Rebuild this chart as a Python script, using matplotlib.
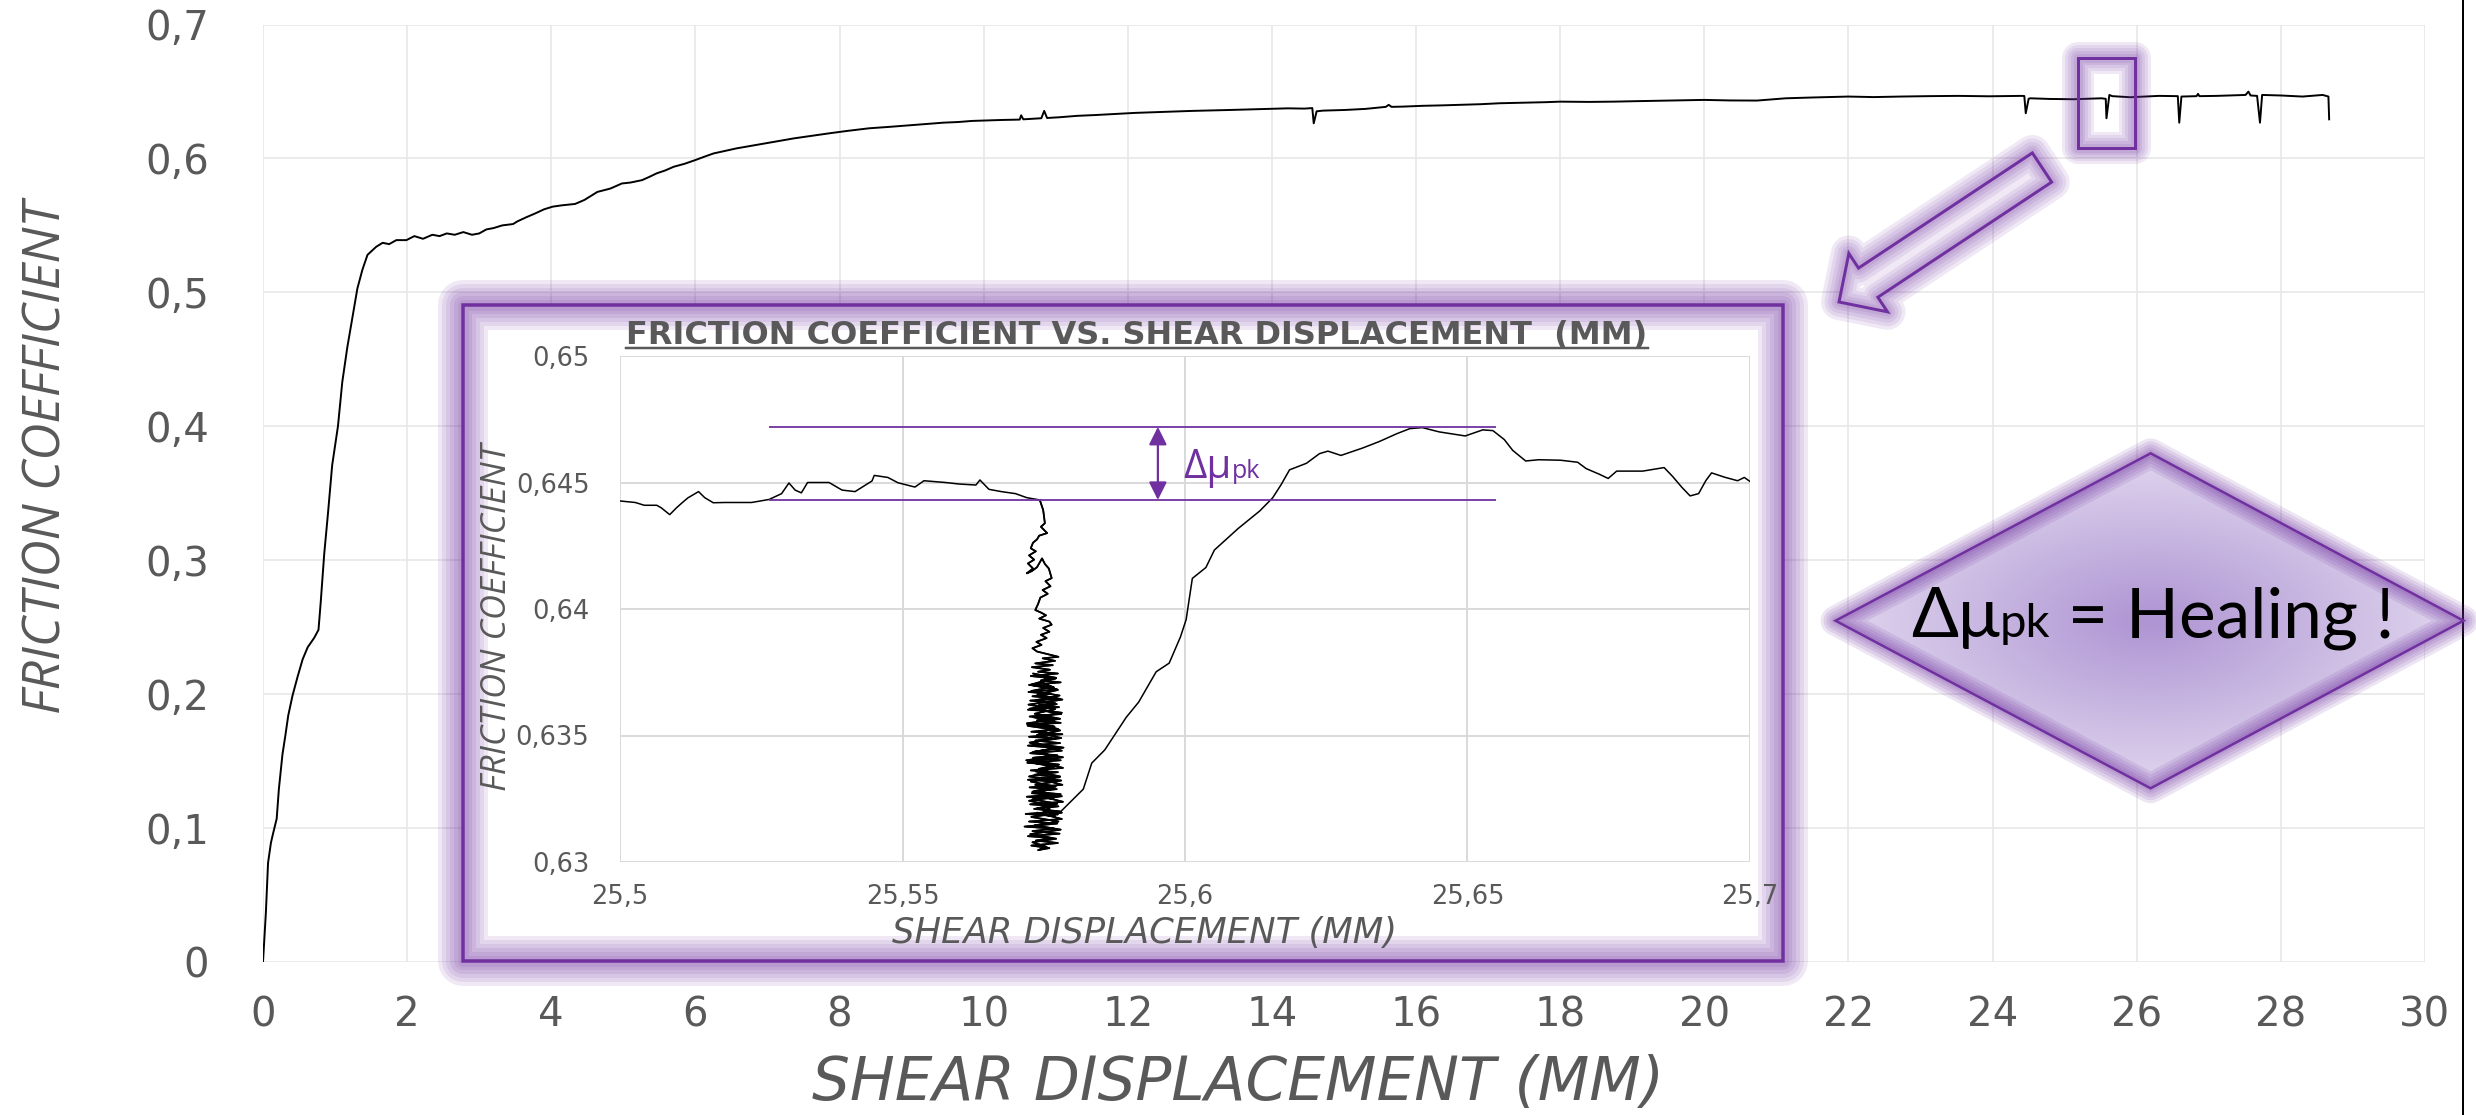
import numpy as np
import matplotlib
matplotlib.use("Agg")
import matplotlib.pyplot as plt
import matplotlib.patheffects as pe
from matplotlib.patches import Polygon, Rectangle
from matplotlib import font_manager as fm

W, H, DPI = 2476, 1115, 100
PX = 72.0 / DPI          # points per pixel
PURPLE = "#7030A0"
GREY_TXT = "#595959"

# ---------------------------------------------------------------- data
main_pts = [
    (0.00, 0.000), (0.04, 0.037), (0.07, 0.074), (0.11, 0.089), (0.14, 0.096),
    (0.19, 0.107), (0.22, 0.129), (0.27, 0.155), (0.31, 0.169), (0.35, 0.184),
    (0.41, 0.199), (0.48, 0.213), (0.55, 0.226), (0.62, 0.235), (0.71, 0.242),
    (0.77, 0.248), (0.80, 0.268), (0.85, 0.305), (0.90, 0.334), (0.96, 0.371),
    (1.04, 0.400), (1.10, 0.433), (1.17, 0.459), (1.24, 0.481), (1.31, 0.503),
    (1.38, 0.517), (1.45, 0.528), (1.57, 0.534), (1.66, 0.537), (1.75, 0.536),
    (1.85, 0.539), (1.99, 0.539), (2.10, 0.542), (2.22, 0.540), (2.35, 0.543),
    (2.45, 0.542), (2.55, 0.544), (2.66, 0.543), (2.78, 0.545), (2.90, 0.543),
    (3.00, 0.544), (3.10, 0.547), (3.20, 0.548), (3.32, 0.550), (3.47, 0.551),
    (3.53, 0.553), (3.65, 0.556), (3.78, 0.559), (3.90, 0.562), (4.02, 0.564),
    (4.15, 0.565), (4.33, 0.566), (4.46, 0.569), (4.55, 0.572), (4.64, 0.575),
    (4.82, 0.5775), (4.98, 0.5813), (5.10, 0.5820), (5.26, 0.5838), (5.36, 0.5862),
    (5.46, 0.5888), (5.58, 0.5910), (5.70, 0.5938), (5.85, 0.5960), (6.00, 0.5988),
    (6.12, 0.6012), (6.25, 0.6037), (6.40, 0.6055), (6.57, 0.6075), (6.75, 0.6092),
    (6.97, 0.6112), (7.15, 0.6130), (7.37, 0.6150), (7.60, 0.6168), (7.85, 0.6187),
    (8.10, 0.6205), (8.41, 0.6225), (8.70, 0.6236), (9.04, 0.6250), (9.25, 0.6258),
    (9.44, 0.6267), (9.65, 0.6272), (9.84, 0.6280), (10.05, 0.6284), (10.24, 0.6287),
    (10.50, 0.6290), (10.52, 0.6322), (10.55, 0.6292), (10.80, 0.6300), (10.84, 0.6355),
    (10.88, 0.6302), (11.04, 0.6307), (11.30, 0.6318), (11.55, 0.6324), (11.83, 0.6332),
    (12.10, 0.6340), (12.35, 0.6345), (12.63, 0.6350), (12.90, 0.6355), (13.15, 0.6358),
    (13.43, 0.6362), (13.70, 0.6366), (13.95, 0.6370), (14.22, 0.6374), (14.45, 0.6372),
    (14.56, 0.6376), (14.58, 0.6262), (14.62, 0.6352), (14.71, 0.6357), (15.02, 0.6362),
    (15.30, 0.6370), (15.58, 0.6385), (15.62, 0.6400), (15.66, 0.6385), (15.82, 0.6387),
    (16.10, 0.6393), (16.35, 0.6396), (16.61, 0.6400), (16.90, 0.6405), (17.16, 0.6412),
    (17.55, 0.6417), (17.80, 0.6420), (18.00, 0.6424), (18.40, 0.6422), (18.74, 0.6424),
    (19.10, 0.6428), (19.54, 0.6432), (20.00, 0.6437), (20.35, 0.6433), (20.73, 0.6432),
    (21.13, 0.6449), (21.50, 0.6455), (22.00, 0.6462), (22.35, 0.6458), (22.72, 0.6462),
    (23.10, 0.6465), (23.52, 0.6467), (23.95, 0.6464), (24.40, 0.6467), (24.44, 0.6466),
    (24.46, 0.6337), (24.50, 0.6445), (24.52, 0.6449), (24.80, 0.6444), (25.12, 0.6442),
    (25.51, 0.6449), (25.57, 0.6445), (25.58, 0.6300), (25.62, 0.6474), (25.66, 0.6465),
    (25.91, 0.6457), (26.10, 0.6462), (26.31, 0.6467), (26.57, 0.6465), (26.59, 0.6267),
    (26.62, 0.6462), (26.83, 0.6465), (26.85, 0.6482), (26.87, 0.6465), (27.11, 0.6467),
    (27.30, 0.6470), (27.51, 0.6474), (27.55, 0.6499), (27.58, 0.6470), (27.67, 0.6467),
    (27.71, 0.6267), (27.74, 0.6474), (28.00, 0.6470), (28.30, 0.6462), (28.58, 0.6474),
    (28.66, 0.6462), (28.67, 0.6292),
]
main_xticks = [0, 2, 4, 6, 8, 10, 12, 14, 16, 18, 20, 22, 24, 26, 28, 30]
main_xticklabels = [str(v) for v in main_xticks]
main_yticks = [0, 0.1, 0.2, 0.3, 0.4, 0.5, 0.6, 0.7]
main_yticklabels = ["0", "0,1", "0,2", "0,3", "0,4", "0,5", "0,6", "0,7"]

# inset (zoom 25.5 - 25.7 mm): before the slip, the slip cluster, the recovery
inset_before = [
    (25.5, 0.64427), (25.5027, 0.64421), (25.5043, 0.6441), (25.5065, 0.6441),
    (25.5073, 0.6440), (25.5088, 0.64373), (25.51, 0.6440), (25.511, 0.6442),
    (25.512, 0.64439), (25.5139, 0.64464), (25.515, 0.6444), (25.5165, 0.6442),
    (25.5187, 0.64421), (25.5233, 0.64421), (25.5264, 0.64433), (25.5286, 0.64456),
    (25.5299, 0.64498), (25.531, 0.6447), (25.5321, 0.64459), (25.5332, 0.645),
    (25.537, 0.645), (25.5393, 0.6447), (25.5416, 0.64464), (25.5446, 0.64506),
    (25.545, 0.64528), (25.5474, 0.6452), (25.5492, 0.64499), (25.5522, 0.64482),
    (25.5538, 0.64507), (25.5576, 0.645), (25.56, 0.64494), (25.563, 0.6449),
    (25.5637, 0.6451), (25.5653, 0.64473), (25.5675, 0.64464), (25.57, 0.64456),
    (25.572, 0.6444),
]
inset_slip = [
    (25.5743, 0.64431), (25.5749, 0.64391), (25.5752, 0.64339), (25.5745, 0.64325),
    (25.5756, 0.64300), (25.5742, 0.64290), (25.5738, 0.64275), (25.5731, 0.64262),
    (25.5727, 0.64240), (25.5736, 0.64228), (25.5724, 0.64212), (25.5733, 0.64195),
    (25.5722, 0.64180), (25.5731, 0.64160), (25.5720, 0.64141), (25.5729, 0.64150),
    (25.5738, 0.64165), (25.5747, 0.64200), (25.5752, 0.64178), (25.5759, 0.64160),
    (25.5764, 0.64122), (25.5753, 0.64110), (25.5762, 0.64090), (25.5748, 0.64075),
    (25.5757, 0.64060), (25.5744, 0.64045), (25.5740, 0.64020), (25.5735, 0.63996),
    (25.5746, 0.63985), (25.5754, 0.63975), (25.5742, 0.63962), (25.5760, 0.63950),
    (25.5764, 0.63938), (25.5749, 0.63925), (25.5760, 0.63910), (25.5745, 0.63898),
    (25.5755, 0.63885), (25.5737, 0.63870), (25.5746, 0.63858), (25.5730, 0.63845),
    (25.5738, 0.63832), (25.5776, 0.63811), (25.5748, 0.63805), (25.5770, 0.63795),
    (25.5735, 0.63785), (25.5766, 0.63778), (25.5729, 0.63770), (25.5761, 0.63760),
    (25.5740, 0.63752), (25.5775, 0.63745), (25.5727, 0.63735), (25.5771, 0.63725),
    (25.5745, 0.63718), (25.5780, 0.63710), (25.5724, 0.63700), (25.5768, 0.63690),
    (25.5736, 0.63698), (25.5774, 0.63682), (25.5723, 0.63672), (25.5762, 0.63665),
    (25.5730, 0.63655), (25.5779, 0.63645), (25.5726, 0.63638), (25.5770, 0.63628),
    (25.5741, 0.63620), (25.5777, 0.63612), (25.5722, 0.63602), (25.5766, 0.63595),
    (25.5733, 0.63605), (25.5781, 0.63585), (25.5725, 0.63575), (25.5772, 0.63568),
    (25.5738, 0.63560), (25.5780, 0.63550), (25.5721, 0.63542), (25.5769, 0.63535),
    (25.5744, 0.63545), (25.5776, 0.63525), (25.5728, 0.63515), (25.5783, 0.63505),
    (25.5724, 0.63495), (25.5771, 0.63488), (25.5735, 0.63480), (25.5779, 0.63470),
    (25.5722, 0.63460), (25.5765, 0.63452), (25.5740, 0.63465), (25.5782, 0.63440),
    (25.5726, 0.63430), (25.5774, 0.63422), (25.5731, 0.63412), (25.5780, 0.63402),
    (25.5721, 0.63392), (25.5768, 0.63385), (25.5744, 0.63395), (25.5784, 0.63372),
    (25.5727, 0.63362), (25.5775, 0.63355), (25.5734, 0.63345), (25.5778, 0.63335),
    (25.5722, 0.63325), (25.5770, 0.63318), (25.5740, 0.63330), (25.5783, 0.63305),
    (25.5725, 0.63295), (25.5773, 0.63288), (25.5730, 0.63278), (25.5780, 0.63268),
    (25.5720, 0.63258), (25.5767, 0.63250), (25.5742, 0.63262), (25.5784, 0.63238),
    (25.5726, 0.63228), (25.5776, 0.63220), (25.5733, 0.63210), (25.5779, 0.63200),
    (25.5718, 0.63190), (25.5770, 0.63182), (25.5738, 0.63195), (25.5782, 0.63170),
    (25.5724, 0.63160), (25.5774, 0.63152), (25.5716, 0.63140), (25.5768, 0.63132),
    (25.5730, 0.63122), (25.5778, 0.63112), (25.5722, 0.63102), (25.5765, 0.63095),
    (25.5736, 0.63085), (25.5775, 0.63075), (25.5728, 0.63065), (25.5760, 0.63055),
    (25.5740, 0.63047), (25.5755, 0.63060), (25.5730, 0.63078), (25.5772, 0.63092),
    (25.5726, 0.63110), (25.5780, 0.63128), (25.5734, 0.63145), (25.5776, 0.63160),
    (25.5728, 0.63178), (25.5782, 0.63195), (25.5738, 0.63212), (25.5774, 0.63230),
    (25.5730, 0.63248), (25.5779, 0.63262),
    (25.5729, 0.63272), (25.5768, 0.63290), (25.5735, 0.63305), (25.5781, 0.63322),
    (25.5724, 0.63338), (25.5760, 0.63356), (25.5741, 0.63368), (25.5777, 0.63385),
    (25.5719, 0.63402), (25.5771, 0.63418), (25.5733, 0.63436), (25.5785, 0.63452),
    (25.5727, 0.63470), (25.5764, 0.63488), (25.5738, 0.63502), (25.5779, 0.63520),
    (25.5722, 0.63538), (25.5769, 0.63556), (25.5732, 0.63572), (25.5782, 0.63590),
    (25.5725, 0.63606), (25.5773, 0.63624), (25.5737, 0.63640), (25.5778, 0.63658),
    (25.5728, 0.63676), (25.5766, 0.63692), (25.5745, 0.63710), (25.5772, 0.63728),
    (25.5731, 0.63745), (25.5760, 0.63722),
    (25.5726, 0.63700), (25.5775, 0.63680), (25.5739, 0.63662), (25.5783, 0.63642),
    (25.5723, 0.63622), (25.5770, 0.63604), (25.5734, 0.63586), (25.5779, 0.63566),
    (25.5720, 0.63548), (25.5767, 0.63528), (25.5742, 0.63510), (25.5781, 0.63490),
    (25.5725, 0.63472), (25.5773, 0.63452), (25.5730, 0.63434), (25.5784, 0.63414),
    (25.5722, 0.63396), (25.5768, 0.63376), (25.5736, 0.63358), (25.5779, 0.63338),
    (25.5727, 0.63318), (25.5771, 0.63298), (25.5733, 0.63280), (25.5782, 0.63260),
    (25.5724, 0.63242), (25.5766, 0.63222), (25.5750, 0.63200),
]
inset_after = [
    (25.5774, 0.63186), (25.5797, 0.63237), (25.582, 0.63288), (25.5835, 0.63391),
    (25.5858, 0.63443), (25.5873, 0.63494), (25.5896, 0.63572), (25.5918, 0.63632),
    (25.5949, 0.63752), (25.5972, 0.63786), (25.5992, 0.6389), (25.6002, 0.63958),
    (25.6013, 0.64121), (25.6037, 0.64164), (25.6052, 0.64233), (25.6094, 0.64318),
    (25.6132, 0.64387), (25.6155, 0.64439), (25.617, 0.64491), (25.6185, 0.6455),
    (25.6215, 0.64576), (25.6238, 0.64614), (25.6253, 0.64624), (25.6276, 0.64607),
    (25.6314, 0.64636), (25.6344, 0.64662), (25.6375, 0.64693), (25.6398, 0.64713),
    (25.642, 0.64717), (25.645, 0.647), (25.6496, 0.64684), (25.6527, 0.64708),
    (25.6545, 0.64705), (25.6565, 0.6467), (25.658, 0.64627), (25.6603, 0.64585),
    (25.6626, 0.6459), (25.6665, 0.64588), (25.6695, 0.6458), (25.671, 0.64555),
    (25.6733, 0.64533), (25.6749, 0.64516), (25.6764, 0.64545), (25.681, 0.64545),
    (25.6848, 0.64559), (25.6863, 0.64524), (25.6879, 0.64482), (25.6894, 0.64447),
    (25.6909, 0.64456), (25.6922, 0.64508), (25.6932, 0.64538), (25.6955, 0.64521),
    (25.6978, 0.64507), (25.699, 0.6452), (25.7, 0.64504),
]
inset_xticks = [25.5, 25.55, 25.6, 25.65, 25.7]
inset_xticklabels = ["25,5", "25,55", "25,6", "25,65", "25,7"]
inset_yticks = [0.63, 0.635, 0.64, 0.645, 0.65]
inset_yticklabels = ["0,63", "0,635", "0,64", "0,645", "0,65"]
peak_levels = [0.64431, 0.6472]        # friction before slip / peak after healing
peak_span = [25.5264, 25.655]
peak_arrow_x = 25.5952
label_x = 25.5997

# ---------------------------------------------------------------- helpers
def has_font(name):
    try:
        fm.findfont(fm.FontProperties(family=name), fallback_to_default=False)
        return True
    except Exception:
        return False

NARROW = has_font("Liberation Sans Narrow")
NARROW_FAM = ["Liberation Sans Narrow", "DejaVu Sans"] if NARROW else ["Open Sans", "DejaVu Sans"]
plt.rcParams["font.family"] = ["DejaVu Sans"]


def glow(widths, alpha=0.1):
    eff = [pe.Stroke(linewidth=w * PX, foreground=PURPLE, alpha=alpha,
                     joinstyle="round", capstyle="round") for w in widths]
    return eff + [pe.Normal()]


def rect_px(l, t, r, b):
    return [l / W, 1 - b / H, (r - l) / W, (b - t) / H]

# ---------------------------------------------------------------- figure
fig = plt.figure(figsize=(W / DPI, H / DPI), dpi=DPI, facecolor="white")

# main chart
ax = fig.add_axes(rect_px(263, 24.5, 2425, 962), zorder=0)
mx, my = zip(*main_pts)
ax.plot(mx, my, color="black", lw=1.4, solid_joinstyle="round")
ax.set_xlim(0, 30)
ax.set_ylim(0, 0.7)
ax.set_xticks(main_xticks)
ax.set_xticklabels(main_xticklabels)
ax.set_yticks(main_yticks)
ax.set_yticklabels(main_yticklabels)
ax.grid(True, color="#E6E6E6", lw=1.1)
ax.set_axisbelow(True)
for s in ax.spines.values():
    s.set_visible(False)
ax.tick_params(length=0, labelsize=29, labelcolor=GREY_TXT)
ax.tick_params(axis="x", pad=24)
ax.tick_params(axis="y", pad=39)
ax.set_xlabel("SHEAR DISPLACEMENT (MM)", fontsize=43, style="italic", color=GREY_TXT)
ax.xaxis.label.set_va("baseline")
ax.xaxis.set_label_coords((1238 - 263) / 2162, (962 - 1100) / 937.5)
ax.set_ylabel("FRICTION COEFFICIENT", fontsize=(44 if NARROW else 37), style="italic",
              color=GREY_TXT, family=NARROW_FAM)
ax.yaxis.label.set_va("center")
ax.yaxis.label.set_ha("center")
ax.yaxis.set_label_coords((47 - 263) / 2162, (962 - 457) / 937.5)

# overlay in pixel coordinates for the slide decorations
ov = fig.add_axes([0, 0, 1, 1], zorder=1)
ov.set_axis_off()

# right border line of the slide picture
ov.plot([2463, 2463], [0, H], color="black", lw=2 * PX, zorder=1)

# inset frame
ov.add_patch(Rectangle((463, 305), 1320, 656, facecolor="white", edgecolor="none", zorder=2))
ov.add_patch(Rectangle((463, 305), 1320, 656, fill=False, edgecolor=PURPLE, lw=3.5 * PX,
                       zorder=3, path_effects=glow((50, 42, 34, 26, 18, 11))))

# small selection rectangle on the main curve
ov.add_patch(Rectangle((2078, 58), 57, 90, fill=False, edgecolor=PURPLE, lw=3 * PX,
                       zorder=3, path_effects=glow((32, 26, 20, 14, 9))))

# hollow block arrow pointing to the inset
tail = np.array([2042.0, 167.5])
tip = np.array([1839.0, 302.0])
u = (tip - tail) / np.linalg.norm(tip - tail)
n = np.array([u[1], -u[0]])
hb = tip - 35 * u
arrow_poly = np.array([tail + 17.5 * n, hb + 17.5 * n, hb + 35 * n, tip,
                       hb - 35 * n, hb - 17.5 * n, tail - 17.5 * n])
ov.add_patch(Polygon(arrow_poly, closed=True, facecolor="white", edgecolor="none", zorder=2))
ov.add_patch(Polygon(arrow_poly, closed=True, fill=False, edgecolor=PURPLE, lw=3 * PX,
                     zorder=3, path_effects=glow((36, 29, 22, 15, 9))))

# diamond with radial gradient
dia = np.array([[1835.5, 620.7], [2150.6, 453.3], [2463.5, 620.7], [2150.6, 788.3]])
dia_clip = Polygon(dia, closed=True, facecolor="none", edgecolor="none")
ov.add_patch(dia_clip)
gx = np.linspace(1835, 2464, 320)
gy = np.linspace(453, 789, 180)
GX, GY = np.meshgrid(gx, gy)
rr = np.clip(np.sqrt(((GX - 2150) / 330) ** 2 + ((GY - 621) / 175) ** 2), 0, 1)
c0 = np.array([174, 148, 211]) / 255.0
c1 = np.array([226, 217, 239]) / 255.0
img = c0 + (c1 - c0) * rr[..., None]
im = ov.imshow(img, extent=(1835, 2464, 789, 453), zorder=4, aspect="auto",
               interpolation="bilinear")
im.set_clip_path(dia_clip)
ov.add_patch(Polygon(dia, closed=True, fill=False, edgecolor=PURPLE, lw=2.5 * PX,
                     zorder=5, path_effects=glow((30, 24, 18, 12, 7), alpha=0.12)))

DIA_FAM = ["Lato", "Noto Sans", "DejaVu Sans"]
t1 = ov.text(1911, 637, "Δμ", fontsize=50, family=DIA_FAM, color="black",
             ha="left", va="baseline", zorder=6)
t2 = ov.annotate("pk", xy=(1, 637), xycoords=(t1, "data"), fontsize=34, family=DIA_FAM,
                 color="black", ha="left", va="baseline", zorder=6)
t3 = ov.annotate(" = Healing !", xy=(1, 637), xycoords=(t2, "data"), fontsize=50,
                 family=DIA_FAM, color="black", ha="left", va="baseline", zorder=6)

ov.set_xlim(0, W)
ov.set_ylim(H, 0)

# inset chart
axi = fig.add_axes(rect_px(620, 356, 1750, 862), zorder=2)
ix = [p[0] for p in inset_before + inset_slip + inset_after]
iy = [p[1] for p in inset_before + inset_slip + inset_after]
axi.plot(ix, iy, color="black", lw=1.1, solid_joinstyle="round")
sx = [p[0] for p in inset_slip]
sy = [p[1] for p in inset_slip]
axi.plot(sx, sy, color="black", lw=1.3, solid_joinstyle="round")
axi.set_xlim(25.5, 25.7)
axi.set_ylim(0.63, 0.65)
axi.set_xticks(inset_xticks)
axi.set_xticklabels(inset_xticklabels)
axi.set_yticks(inset_yticks)
axi.set_yticklabels(inset_yticklabels)
axi.grid(True, color="#D9D9D9", lw=1.4)
axi.set_axisbelow(True)
axi.set_facecolor("white")
for s in axi.spines.values():
    s.set_visible(False)
axi.tick_params(length=0, labelsize=18.5, labelcolor=GREY_TXT)
axi.tick_params(axis="x", pad=16)
axi.tick_params(axis="y", pad=22)
title_y = (862 - 344) / 506
t_title = axi.set_title("FRICTION COEFFICIENT VS. SHEAR DISPLACEMENT  (MM)", fontsize=23,
                        fontweight="bold", color=GREY_TXT, y=title_y, va="baseline", pad=0)
t_title.set_x((1137 - 620) / 1130)
axi.set_xlabel("SHEAR DISPLACEMENT (MM)", fontsize=25.5, style="italic", color=GREY_TXT)
axi.xaxis.label.set_va("baseline")
axi.xaxis.set_label_coords((1144 - 620) / 1130, (862 - 943) / 506)
axi.set_ylabel("FRICTION COEFFICIENT", fontsize=(29 if NARROW else 25), style="italic",
               color=GREY_TXT, family=NARROW_FAM)
axi.yaxis.label.set_va("center")
axi.yaxis.label.set_ha("center")
axi.yaxis.set_label_coords((497 - 620) / 1130, (862 - 617) / 506)

axi.hlines(peak_levels, peak_span[0], peak_span[1], color=PURPLE, lw=1.3)
axi.annotate("", xy=(peak_arrow_x, peak_levels[1]), xytext=(peak_arrow_x, peak_levels[0]),
             arrowprops=dict(arrowstyle="<|-|>,head_length=0.9,head_width=0.45",
                             color=PURPLE, lw=1.6, shrinkA=0, shrinkB=0, mutation_scale=12))
lab_y = 0.65 - (478 - 356) / 506 * 0.02
s1 = axi.text(label_x, lab_y, "Δμ", fontsize=29, color=PURPLE, family=["Open Sans", "DejaVu Sans"],
              ha="left", va="baseline")
axi.annotate("pk", xy=(1, lab_y), xycoords=(s1, "data"), fontsize=18, color=PURPLE,
             family=["Open Sans", "DejaVu Sans"], ha="left", va="baseline")

# underline of the inset title
fig.canvas.draw()
rend = fig.canvas.get_renderer()
bb = t_title.get_window_extent(rend)
base_disp = axi.transAxes.transform((0, title_y))[1]
uy = H - (base_disp - 4.5)
ov.plot([bb.x0, bb.x1], [uy, uy], color=GREY_TXT, lw=2.5 * PX, zorder=7)
ov.set_xlim(0, W)
ov.set_ylim(H, 0)

fig.savefig("out.png", dpi=DPI, facecolor="white")
